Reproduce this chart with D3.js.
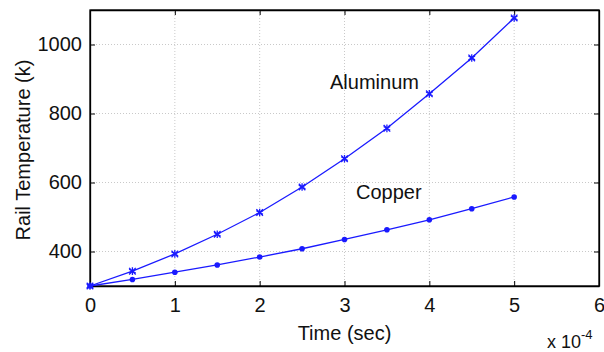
<!DOCTYPE html>
<html>
<head>
<meta charset="utf-8">
<script src="https://cdn.jsdelivr.net/npm/d3@7"></script>
<style>
  body { margin: 0; background: #fff; }
  text { font-family: "Liberation Sans", Arial, sans-serif; }
</style>
</head>
<body>
<div id="chart"></div>
<script>
const times = [0, 0.5, 1, 1.5, 2, 2.5, 3, 3.5, 4, 4.5, 5]
const aluminum = [300, 343, 393, 450, 513, 587, 669, 757, 857, 961, 1077]
const copper = [300, 319, 340, 361, 384, 408, 435, 463, 492, 524, 558]
const xTicks = [0, 1, 2, 3, 4, 5, 6]
const yTicks = [400, 600, 800, 1000]

const width = 604
const height = 352
const margin = { top: 10, left: 90, right: 5, bottom: 66 }

const svg = d3
  .select('#chart')
  .append('svg')
  .attr('width', width)
  .attr('height', height)

const x = d3.scaleLinear().domain([0, 6]).range([margin.left, width - margin.right])
const y = d3.scaleLinear().domain([300, 1100]).range([height - margin.bottom, margin.top])

// grid
svg.append('g')
  .selectAll('line')
  .data(xTicks.slice(1, -1))
  .enter().append('line')
  .attr('x1', d => x(d)).attr('x2', d => x(d))
  .attr('y1', y(300)).attr('y2', y(1100))
  .attr('stroke', '#bbb').attr('stroke-width', 0.8)
  .attr('stroke-dasharray', '1,2')

svg.append('g')
  .selectAll('line')
  .data(yTicks)
  .enter().append('line')
  .attr('x1', x(0)).attr('x2', x(6))
  .attr('y1', d => y(d)).attr('y2', d => y(d))
  .attr('stroke', '#bbb').attr('stroke-width', 0.8)
  .attr('stroke-dasharray', '1,2')

// axes, ticks inward on all four sides
const tickLen = 5
svg.append('g')
  .attr('transform', 'translate(0,' + y(300) + ')')
  .call(d3.axisBottom(x).tickValues(xTicks).tickFormat(d3.format('d')).tickSize(-tickLen).tickPadding(12).tickSizeOuter(0))
svg.append('g')
  .attr('transform', 'translate(0,' + y(1100) + ')')
  .call(d3.axisTop(x).tickValues(xTicks).tickSize(-tickLen).tickFormat('').tickSizeOuter(0))
svg.append('g')
  .attr('transform', 'translate(' + x(0) + ',0)')
  .call(d3.axisLeft(y).tickValues(yTicks).tickFormat(d3.format('d')).tickSize(-tickLen).tickPadding(8).tickSizeOuter(0))
svg.append('g')
  .attr('transform', 'translate(' + x(6) + ',0)')
  .call(d3.axisRight(y).tickValues(yTicks).tickSize(-tickLen).tickFormat('').tickSizeOuter(0))

svg.selectAll('.tick text')
  .style('font-size', '20px')
  .style('font-family', '"Liberation Sans", Arial, sans-serif')
  .attr('fill', '#111')
svg.selectAll('.domain').attr('stroke', '#000').attr('stroke-width', 1.3)
svg.selectAll('.tick line').attr('stroke', '#000')

svg.append('rect')
  .attr('x', x(0)).attr('y', y(1100))
  .attr('width', x(6) - x(0)).attr('height', y(300) - y(1100))
  .attr('fill', 'none').attr('stroke', '#000').attr('stroke-width', 1.3)

const blue = '#1a1aff'
const line = d3.line().x((d, i) => x(times[i])).y(d => y(d))

svg.append('path').datum(aluminum)
  .attr('d', line).attr('fill', 'none').attr('stroke', blue).attr('stroke-width', 1.3)
svg.append('path').datum(copper)
  .attr('d', line).attr('fill', 'none').attr('stroke', blue).attr('stroke-width', 1.3)

// asterisk markers
const star = d3.symbol().type(d3.symbolAsterisk).size(40)
svg.append('g')
  .selectAll('path')
  .data(aluminum)
  .enter().append('path')
  .attr('d', star)
  .attr('transform', (d, i) => 'translate(' + x(times[i]) + ',' + y(d) + ')')
  .attr('fill', 'none').attr('stroke', blue).attr('stroke-width', 1.3)
svg.append('g')
  .selectAll('path')
  .data(aluminum)
  .enter().append('path')
  .attr('d', d3.symbol().type(d3.symbolTimes).size(30))
  .attr('transform', (d, i) => 'translate(' + x(times[i]) + ',' + y(d) + ')')
  .attr('fill', 'none').attr('stroke', blue).attr('stroke-width', 1.3)

// dot markers
svg.append('g')
  .selectAll('circle')
  .data(copper)
  .enter().append('circle')
  .attr('cx', (d, i) => x(times[i]))
  .attr('cy', d => y(d))
  .attr('r', 2.8)
  .attr('fill', blue)

// labels
svg.append('text').text('Aluminum')
  .attr('x', 330).attr('y', 89).style('font-size', '20px').attr('fill', '#111')
svg.append('text').text('Copper')
  .attr('x', 356).attr('y', 199).style('font-size', '20px').attr('fill', '#111')

svg.append('text').text('Time (sec)')
  .attr('x', (x(0) + x(6)) / 2).attr('y', 340).attr('text-anchor', 'middle')
  .style('font-size', '20px').attr('fill', '#111')

svg.append('text').text('Rail Temperature (k)')
  .attr('transform', 'translate(30,' + 150 + ') rotate(-90)')
  .attr('text-anchor', 'middle')
  .style('font-size', '20px').attr('fill', '#111')

const exp = svg.append('text').attr('x', 547).attr('y', 348)
  .style('font-size', '18px').attr('fill', '#111')
exp.append('tspan').text('x 10')
exp.append('tspan').text('-4').attr('dy', -9).style('font-size', '13px')
</script>
</body>
</html>
